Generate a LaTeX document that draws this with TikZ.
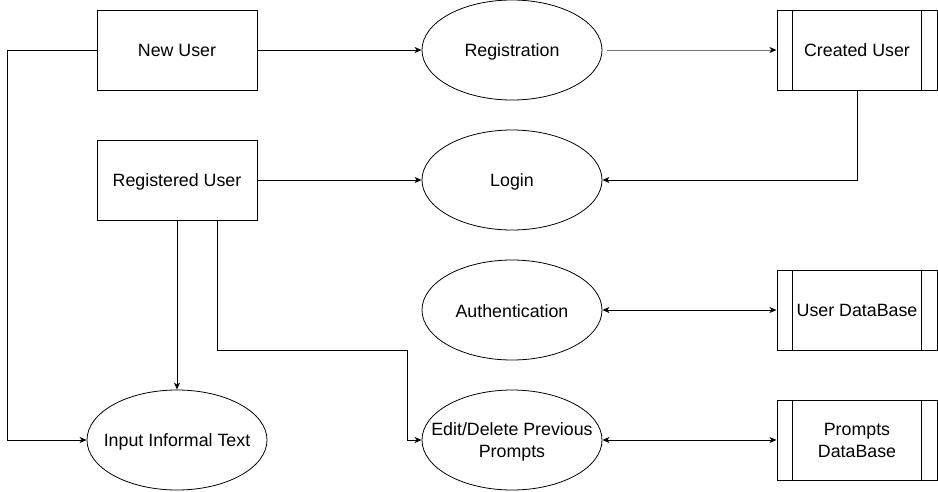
\documentclass[tikz,border=0pt]{standalone}
\usepackage{fontspec}
\setmainfont{Liberation Sans}
\usetikzlibrary{shapes.geometric,arrows.meta}
\begin{document}
\begin{tikzpicture}[x=1pt,y=-1pt,
  every node/.style={font=\fontsize{17.8}{22}\selectfont},
  oneline/.style={text height=16.1pt,text depth=3.8pt},
  entity/.style={draw,line width=1pt,minimum width=160pt,minimum height=80pt,inner sep=0pt,oneline},
  procbox/.style={draw,line width=1pt,minimum width=160pt,minimum height=80pt,inner sep=0pt,align=center},
  proc/.style={draw,ellipse,line width=0.8pt,minimum width=180pt,minimum height=100pt,inner sep=0pt},
  ptext/.style={align=center,inner sep=0pt,yshift=-1.5pt},
  arr/.style={line width=1pt,-{Stealth[length=7pt,width=6pt,inset=2pt,color=black]}},
  barr/.style={line width=1pt,{Stealth[length=7pt,width=6pt,inset=2pt]}-{Stealth[length=7pt,width=6pt,inset=2pt]}}
]
\useasboundingbox (0,0) rectangle (938,491);
\node[entity] (nu) at (177,50) {New User};
\node[entity] (ru) at (177,180) {Registered User};
\node[proc] (reg) at (512,50) {};
\node[proc] (log) at (512,180) {};
\node[proc] (aut) at (512,310) {};
\node[proc] (ed) at (512,440) {};
\node[proc] (inp) at (177,440) {};
\node[ptext] (regt) at (reg) {Registration};
\node[ptext] (logt) at (log) {Login};
\node[ptext] (autt) at (aut) {Authentication};
\node[ptext] (edt) at (ed) {Edit/Delete Previous\\Prompts};
\node[ptext] (inpt) at (inp) {Input Informal Text};
\node[procbox,oneline] (cu) at (857,50) {Created User};
\node[procbox,oneline] (udb) at (857,310) {User DataBase};
\node[procbox] (pdb) at (857,440) {Prompts\\DataBase};
\foreach \n in {cu,udb,pdb}{
  \draw[line width=1pt] ([xshift=16pt]\n.north west) -- ([xshift=16pt]\n.south west);
  \draw[line width=1pt] ([xshift=-16pt]\n.north east) -- ([xshift=-16pt]\n.south east);
}
\coordinate (c0) at (7,50);
\coordinate (c1) at (407,350);
\draw[arr] (nu.east) -- (reg.west);
\draw[arr,draw=black!55] ([xshift=5pt]reg.east) -- (cu.west);
\draw[arr] (cu.south) |- (log.east);
\draw[arr] (ru.east) -- (log.west);
\draw[barr] (aut.east) -- (udb.west);
\draw[barr] (ed.east) -- (pdb.west);
\draw[arr] (nu.west) -- (c0) |- (inp.west);
\draw[arr] (ru.south) -- (inp.north);
\draw[arr] ([xshift=40pt]ru.south) |- (c1) |- (ed.west);
\end{tikzpicture}
\end{document}
